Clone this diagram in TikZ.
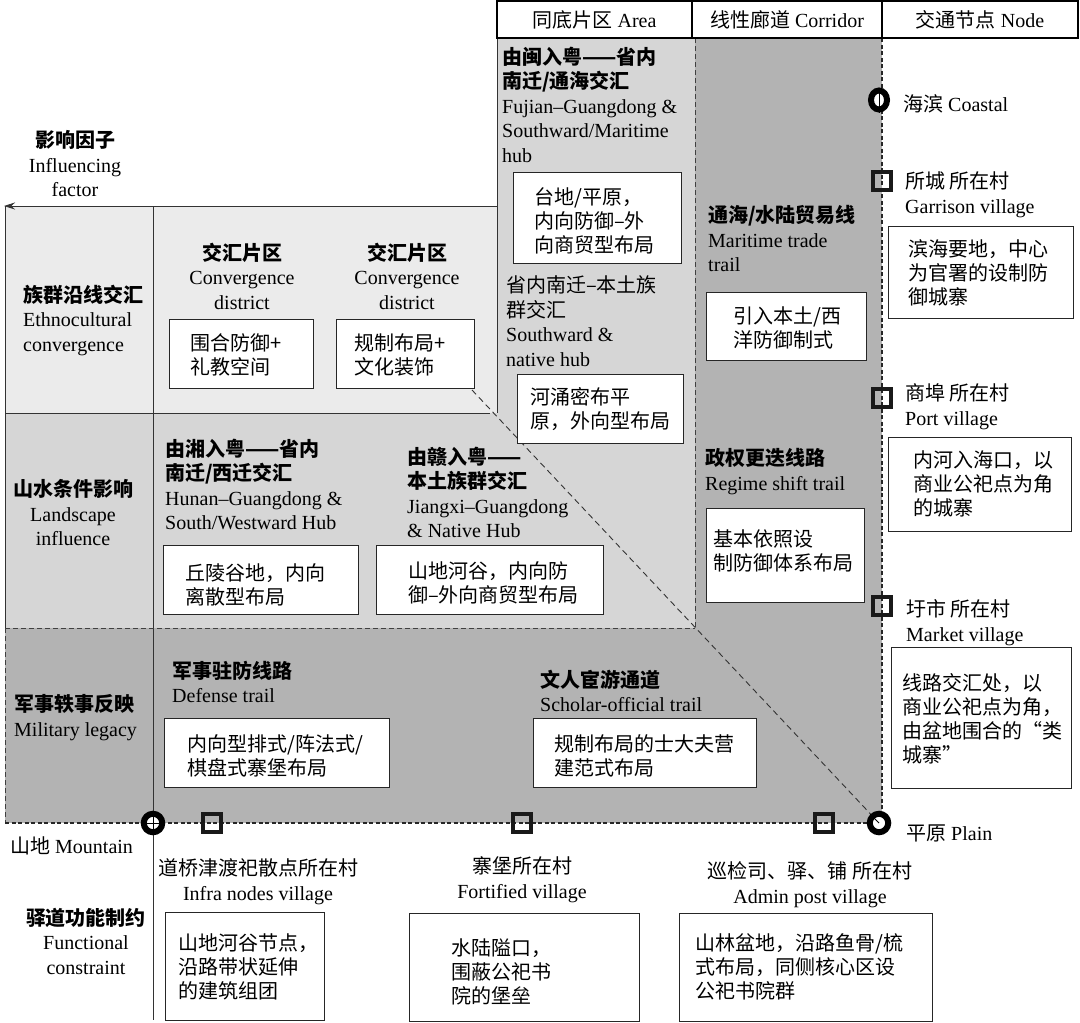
\documentclass[tikz,border=0pt]{standalone}
\usepackage{fontspec}
\setmainfont{Liberation Serif}
\newfontfamily\zhfont{Noto Sans CJK SC}
\usetikzlibrary{arrows.meta,shapes.geometric}
\newcommand\ZH[1]{{\zhfont #1}}
\newcommand\ZB[1]{{\zhfont\bfseries #1}}
\definecolor{cE}{HTML}{EBEBEB}
\definecolor{cM}{HTML}{D6D6D6}
\definecolor{cD}{HTML}{B3B3B3}
\tikzset{
  lt/.style={font=\fontsize{20}{24.5}\selectfont, anchor=north west, inner sep=0pt, align=left, execute at begin node={\rule{0pt}{16pt}}},
  ct/.style={font=\fontsize{20}{24.5}\selectfont, anchor=north, inner sep=0pt, align=center, execute at begin node={\rule{0pt}{16pt}}},
  zt/.style={lt, font=\fontsize{20}{24}\selectfont\zhfont},
  wbox/.style={draw=black!85, line width=0.9pt, fill=white, inner sep=0pt, anchor=north west},
  hdr/.style={draw=black, line width=1.1pt, fill=white, inner sep=0pt, minimum height=37pt, font=\fontsize{20}{24}\selectfont},
  ring/.style={circle, draw=black, line width=6pt, fill=white, minimum size=18.5pt, inner sep=0pt},
  sq/.style={rectangle, draw=black!90, line width=3.6pt, minimum size=17.5pt, inner sep=0pt},
  ax/.style={dash pattern=on 4pt off 2.5pt, line width=1.2pt, black!85},
  dl/.style={dash pattern=on 5pt off 3pt, line width=0.9pt, black!75},
  gl/.style={line width=0.9pt, black!80},
}
\begin{document}
\begin{tikzpicture}[x=1pt,y=-1pt]
\useasboundingbox (0,0) rectangle (1080,1023);
\fill[white] (0,0) rectangle (1080,1023);
% shaded regions
\fill[cE] (5,206) rectangle (497,413);
\fill[cM] (497,38) rectangle (695,413);
\fill[cM] (5,413) rectangle (695,628);
\fill[cD] (695,38) rectangle (882,628);
\fill[cD] (5,628) rectangle (882,823);
% grid lines
\draw[gl] (497,38) -- (497,413);
\draw[gl] (5,206) -- (5,628);
\draw[gl] (5,413) -- (490,413);
\draw[gl] (153,206) -- (153,1020);
\draw[dl] (5,628) -- (5,823);
\draw[dl] (5,628) -- (695,628);
\draw[dl] (695,38) -- (695,628);
\draw[dash pattern=on 6pt off 4pt, line width=0.9pt, black!80] (472,390) -- (879,823);
\draw[ax] (882,38) -- (882,823);
\draw[ax] (5,823) -- (882,823);
% axis arrow
\coordinate (arrS) at (497,206);
\coordinate (arrE) at (4,206);
\draw[gl, -{Stealth[length=11pt,width=7pt]}] (arrS) -- (arrE);
% header
\node[hdr, minimum width=195pt] (h1) at (594.5,19.5) {\ZH{同底片区} Area};
\node[hdr, minimum width=190pt] (h2) at (787,19.5) {\ZH{线性廊道} Corridor};
\node[hdr, minimum width=196pt] (h3) at (980,19.5) {\ZH{交通节点} Node};
% influencing factor
\node[ct] (inf) at (75,130.5) {\ZB{影响因子}\\Influencing\\factor};
% row labels
\node[lt] (r1) at (23,284.5) {\ZB{族群沿线交汇}\\Ethnocultural\\convergence};
\node[ct] (r2) at (73,479.5) {\ZB{山水条件影响}\\Landscape\\influence};
\node[lt] (r3) at (14,694.5) {\ZB{军事轶事反映}\\Military legacy};
\node[ct] (r4) at (86,907.5) {\ZB{驿道功能制约}\\Functional\\constraint};
% ethnocultural row
\node[ct] (cv1) at (242,242.5) {\ZB{交汇片区}\\Convergence\\district};
\node[ct] (cv2) at (407,242.5) {\ZB{交汇片区}\\Convergence\\district};
\node[wbox, minimum width=144pt, minimum height=69pt] (eb1) at (169,319) {};
\node[zt] (eb1t) at (190,333.5) {围合防御+\\礼教空间};
\node[wbox, minimum width=138pt, minimum height=69pt] (eb2) at (336,319) {};
\node[zt] (eb2t) at (354,333.5) {规制布局+\\文化装饰};
% area column
\node[lt] (a1) at (502,46.5) {\ZB{由闽入粤——省内}\\\ZB{南迁/通海交汇}\\Fujian–Guangdong \&\\Southward/Maritime\\hub};
\node[wbox, minimum width=168pt, minimum height=91pt] (ab1) at (513,172) {};
\node[zt] (ab1t) at (534,187.5) {台地/平原，\\内向防御–外\\向商贸型布局};
\node[lt] (a2) at (506,275.5) {\ZH{省内南迁–本土族}\\\ZH{群交汇}\\Southward \&\\native hub};
\node[wbox, minimum width=166pt, minimum height=69pt] (ab2) at (517,374) {};
\node[zt] (ab2t) at (530,387.5) {河涌密布平\\原，外向型布局};
% corridor column
\node[lt] (c1) at (708,205.5) {\ZB{通海/水陆贸易线}\\Maritime trade\\trail};
\node[wbox, minimum width=160pt, minimum height=68pt] (cb1) at (706,292) {};
\node[zt] (cb1t) at (733,306.5) {引入本土/西\\洋防御制式};
\node[lt] (c2) at (705,448.5) {\ZB{政权更迭线路}\\Regime shift trail};
\node[wbox, minimum width=158pt, minimum height=94pt] (cb2) at (706,508) {};
\node[zt] (cb2t) at (713,529.5) {基本依照设\\制防御体系布局};
% landscape row
\node[lt] (l1) at (165,438.5) {\ZB{由湘入粤——省内}\\\ZB{南迁/西迁交汇}\\Hunan–Guangdong \&\\South/Westward Hub};
\node[wbox, minimum width=195pt, minimum height=69pt] (lb1) at (163,545) {};
\node[zt] (lb1t) at (185,563.5) {丘陵谷地，内向\\离散型布局};
\node[lt] (l2) at (407,446.5) {\ZB{由赣入粤——}\\\ZB{本土族群交汇}\\Jiangxi–Guangdong\\\& Native Hub};
\node[wbox, minimum width=227pt, minimum height=69pt] (lb2) at (376,545) {};
\node[zt] (lb2t) at (408,561.5) {山地河谷，内向防\\御–外向商贸型布局};
% military row
\node[lt] (m1) at (172,660.5) {\ZB{军事驻防线路}\\Defense trail};
\node[wbox, minimum width=225pt, minimum height=69pt] (mb1) at (164,718) {};
\node[zt] (mb1t) at (187,734.5) {内向型排式/阵法式/\\棋盘式寨堡布局};
\node[lt] (m2) at (540,669.5) {\ZB{文人宦游通道}\\Scholar-official trail};
\node[wbox, minimum width=223pt, minimum height=69pt] (mb2) at (533,718) {};
\node[zt] (mb2t) at (554,734.5) {规制布局的士大夫营\\建范式布局};
% node column
\node[lt] (n0t) at (903,94.5) {\ZH{海滨} Coastal};
\node[lt] (n1t) at (905,171.5) {\ZH{所城 所在村}\\Garrison village};
\node[wbox, minimum width=185pt, minimum height=92pt] (nb1) at (888,226) {};
\node[zt] (nb1t) at (908,239.5) {滨海要地，中心\\为官署的设制防\\御城寨};
\node[lt] (n2t) at (905,383.5) {\ZH{商埠 所在村}\\Port village};
\node[wbox, minimum width=183pt, minimum height=94pt] (nb2) at (888,437) {};
\node[zt] (nb2t) at (913,450.5) {内河入海口，以\\商业公祀点为角\\的城寨};
\node[lt] (n3t) at (906,599.5) {\ZH{圩市 所在村}\\Market village};
\node[wbox, minimum width=180pt, minimum height=141pt] (nb3) at (891,647) {};
\node[zt] (nb3t) at (902,673.5) {线路交汇处，以\\商业公祀点为角，\\由盆地围合的“类\\城寨”};
\node[lt] (n4t) at (906,824.5) {\ZH{平原} Plain};
% bottom axis labels
\node[lt] (mt) at (10,836.5) {\ZH{山地} Mountain};
\node[ct] (v1) at (258,858.5) {\ZH{道桥津渡祀散点所在村}\\Infra nodes village};
\node[ct] (v2) at (522,856.5) {\ZH{寨堡所在村}\\Fortified village};
\node[ct] (v3) at (810,861.5) {\ZH{巡检司、驿、铺 所在村}\\Admin post village};
% functional row boxes
\node[wbox, minimum width=159pt, minimum height=108pt] (fb1) at (165,912) {};
\node[zt] (fb1t) at (178,933.5) {山地河谷节点，\\沿路带状延伸\\的建筑组团};
\node[wbox, minimum width=230pt, minimum height=108pt] (fb2) at (409,913) {};
\node[zt] (fb2t) at (451,938.5) {水陆隘口，\\围蔽公祀书\\院的堡垒};
\node[wbox, minimum width=253pt, minimum height=108pt] (fb3) at (679,913) {};
\node[zt] (fb3t) at (695,933.5) {山林盆地，沿路鱼骨/梳\\式布局，同侧核心区设\\公祀书院群};
% markers
\node[ring, ellipse, minimum width=16pt, minimum height=19pt] (k0) at (879,100) {};
\node[ring] (k1) at (153,823) {};
\node[ring] (k2) at (879,823) {};
\draw[line width=0.8pt] (k1.north) -- (k1.south) (k1.west) -- (k1.east);
\draw[line width=0.8pt] (k2.north west) -- (k2.center);
\draw[line width=0.8pt] (k0.north) -- (k0.south);
\node[sq] (s1) at (882,181) {};
\node[sq] (s2) at (882,398) {};
\node[sq] (s3) at (882,606) {};
\node[sq] (s4) at (212,823) {};
\node[sq] (s5) at (522,823) {};
\node[sq] (s6) at (824,823) {};
\end{tikzpicture}
\end{document}
